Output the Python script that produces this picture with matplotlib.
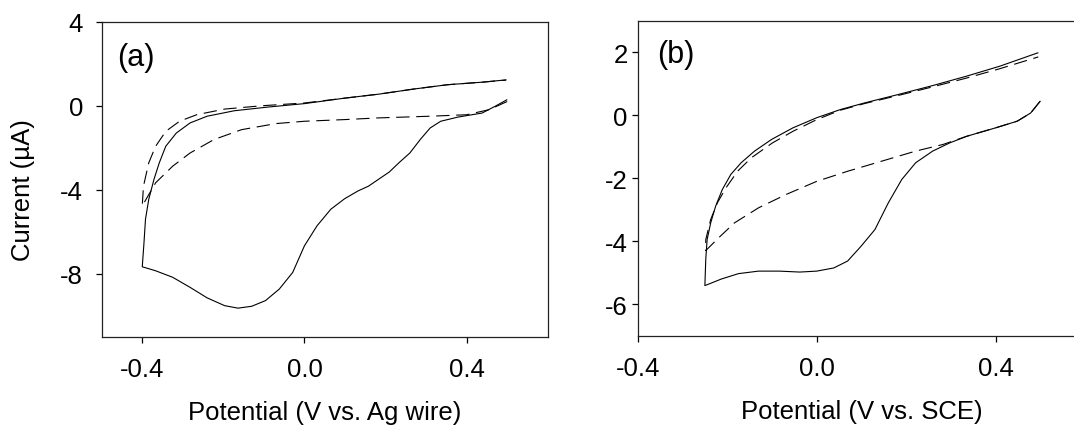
import numpy as np
import matplotlib
matplotlib.use("Agg")
import matplotlib.pyplot as plt

plt.rcParams['font.family'] = ['Liberation Sans', 'DejaVu Sans']

# panel (a): potential (V vs. Ag wire), current (uA)
a_solid_x = [0.499, 0.47, 0.438, 0.379, 0.336, 0.31, 0.286, 0.26, 0.234, 0.209, 0.183,
             0.158, 0.132, 0.099, 0.065, 0.031, 0.0, -0.029, -0.062, -0.096, -0.13,
             -0.164, -0.197, -0.24, -0.282, -0.325, -0.367, -0.4,
             -0.396, -0.392, -0.384, -0.371, -0.358, -0.342, -0.316, -0.282, -0.24,
             -0.173, -0.088, 0.0, 0.099, 0.183, 0.268, 0.353, 0.438, 0.497]
a_solid_y = [0.28, -0.03, -0.35, -0.54, -0.74, -1.06, -1.6, -2.25, -2.7, -3.16, -3.5,
             -3.83, -4.06, -4.43, -4.93, -5.72, -6.67, -7.94, -8.73, -9.28, -9.55,
             -9.64, -9.52, -9.15, -8.65, -8.17, -7.86, -7.67,
             -6.6, -5.4, -4.46, -3.5, -2.72, -1.93, -1.3, -0.82, -0.5,
             -0.24, -0.06, 0.1, 0.36, 0.55, 0.79, 1.0, 1.12, 1.23]

a_dash_x = [0.5, 0.455, 0.4, 0.31, 0.183, 0.1, 0.0, -0.07, -0.155, -0.223, -0.282,
            -0.325, -0.367, -0.4,
            -0.397, -0.384, -0.367, -0.342, -0.308, -0.266, -0.197, -0.104, 0.0,
            0.099, 0.183, 0.268, 0.353, 0.438, 0.497]
a_dash_y = [0.2, -0.19, -0.43, -0.5, -0.58, -0.66, -0.74, -0.85, -1.14, -1.61, -2.25,
            -2.88, -3.67, -4.77,
            -3.83, -2.72, -1.93, -1.22, -0.74, -0.43, -0.16, 0.0, 0.13,
            0.36, 0.55, 0.79, 1.0, 1.12, 1.22]

# panel (b): potential (V vs. SCE), current (uA)
b_solid_x = [0.499, 0.478, 0.448, 0.4, 0.335, 0.297, 0.259, 0.221, 0.19, 0.16, 0.13,
             0.099, 0.069, 0.038, 0.0, -0.038, -0.084, -0.13, -0.175, -0.213, -0.25,
             -0.248, -0.245, -0.237, -0.226, -0.211, -0.192, -0.169, -0.139, -0.101,
             -0.053, 0.0, 0.053, 0.107, 0.183, 0.259, 0.335, 0.41, 0.494]
b_solid_y = [0.44, 0.07, -0.19, -0.4, -0.67, -0.88, -1.14, -1.51, -2.04, -2.78, -3.63,
             -4.16, -4.63, -4.85, -4.95, -4.98, -4.95, -4.95, -5.03, -5.2, -5.41,
             -4.58, -3.95, -3.42, -2.89, -2.36, -1.88, -1.51, -1.14, -0.77,
             -0.4, -0.08, 0.18, 0.39, 0.66, 0.94, 1.24, 1.56, 1.98]

b_dash_x = [0.499, 0.478, 0.448, 0.4, 0.335, 0.282, 0.221, 0.145, 0.069, 0.0, -0.069,
            -0.13, -0.184, -0.222, -0.248,
            -0.248, -0.237, -0.222, -0.203, -0.177, -0.146, -0.099, -0.053, 0.0,
            0.053, 0.107, 0.183, 0.259, 0.335, 0.41, 0.495]
b_dash_y = [0.44, 0.07, -0.19, -0.4, -0.67, -0.93, -1.14, -1.46, -1.78, -2.1, -2.52,
            -2.94, -3.42, -3.93, -4.3,
            -3.95, -3.31, -2.78, -2.31, -1.78, -1.35, -0.88, -0.51, -0.14,
            0.16, 0.37, 0.63, 0.9, 1.18, 1.48, 1.85]

a_xticks = [-0.4, 0.0, 0.4]
a_yticks = [4, 0, -4, -8]
b_xticks = [-0.4, 0.0, 0.4]
b_yticks = [2, 0, -2, -4, -6]

fig = plt.figure(figsize=(10.74, 4.27), dpi=100)
ax1 = fig.add_axes([0.0947, 0.2091, 0.4153, 0.7377])
ax2 = fig.add_axes([0.5938, 0.2115, 0.4167, 0.7377])

fs = 18.5
for ax in (ax1, ax2):
    for s in ax.spines.values():
        s.set_linewidth(0.9)
        s.set_color('#222222')
    ax.tick_params(direction='out', length=4.3, width=0.9, labelsize=fs,
                   top=False, right=False)
    ax.tick_params(axis='x', pad=10)

ax1.plot(a_solid_x, a_solid_y, color='black', lw=0.8)
ax1.plot(a_dash_x, a_dash_y, color='black', lw=0.8, dashes=(12, 6))
ax1.set_xlim(-0.5, 0.6)
ax1.set_ylim(-11, 4)
ax1.set_xticks(a_xticks)
ax1.set_xticklabels(['-0.4', '0.0', '0.4'])
ax1.set_yticks(a_yticks)
ax1.set_yticklabels(['4', '0', '-4', '-8'])
ax1.tick_params(axis='y', pad=9)
ax1.set_xlabel('Potential (V vs. Ag wire)', fontsize=fs)
ax1.set_ylabel('Current (µA)', fontsize=fs)
ax1.xaxis.set_label_coords(0.5, -0.2)
ax1.yaxis.set_label_coords(-0.15, 0.47)
ax1.text(0.034, 0.889, '(a)', transform=ax1.transAxes, fontsize=22,
         ha='left', va='center')

ax2.plot(b_solid_x, b_solid_y, color='black', lw=0.8)
ax2.plot(b_dash_x, b_dash_y, color='black', lw=0.8, dashes=(12, 6))
ax2.set_xlim(-0.4, 0.6)
ax2.set_ylim(-7, 3)
ax2.set_xticks(b_xticks)
ax2.set_xticklabels(['-0.4', '0.0', '0.4'])
ax2.set_yticks(b_yticks)
ax2.set_yticklabels(['2', '0', '-2', '-4', '-6'])
ax2.tick_params(axis='y', pad=3)
ax2.set_xlabel('Potential (V vs. SCE)', fontsize=fs)
ax2.xaxis.set_label_coords(0.5, -0.2)
ax2.text(0.043, 0.894, '(b)', transform=ax2.transAxes, fontsize=22,
         ha='left', va='center')

fig.savefig('out.png', dpi=100)
